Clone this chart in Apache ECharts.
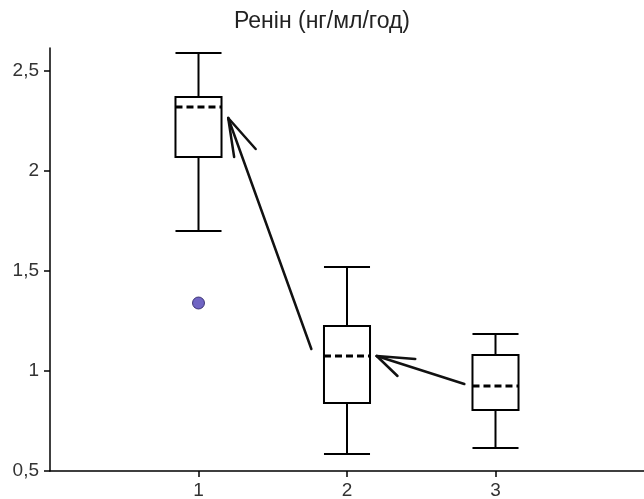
<!DOCTYPE html>
<html>
<head>
<meta charset="utf-8">
<script src="https://cdn.jsdelivr.net/npm/echarts@6/dist/echarts.min.js"></script>
<style>
html,body{margin:0;padding:0;background:#fff;}
#chart{width:644px;height:499px;}
</style>
</head>
<body>
<div id="chart"></div>
<script>
// ---- data ----
var titleText = 'Ренін (нг/мл/год)';
var groups = [1, 2, 3];
var whiskerLow  = [1.70, 0.585, 0.615];
var quart1      = [2.07, 0.84, 0.805];
var medians     = [2.32, 1.075, 0.925];
var quart3      = [2.37, 1.225, 1.08];
var whiskerHigh = [2.59, 1.52, 1.185];
var outlierX = [1];
var outlierY = [1.34];
var yTicks = [0.5, 1, 1.5, 2, 2.5];
var xTicks = [1, 2, 3];
// arrows: tip, tail, head end 1, head end 2 (data coordinates)
var arrowTip   = [[1.20, 2.265], [2.20, 1.075]];
var arrowTail  = [[1.76, 1.11], [2.79, 0.935]];
var arrowHeadA = [[1.385, 2.11], [2.46, 1.06]];
var arrowHeadB = [[1.24, 2.07], [2.34, 0.975]];

var boxData = groups.map(function (g, i) {
  return [g, whiskerLow[i], quart1[i], medians[i], quart3[i], whiskerHigh[i]];
});
var outlierData = outlierX.map(function (x, i) { return [x, outlierY[i]]; });
var arrowData = arrowTip.map(function (t, i) {
  return [t[0], t[1], arrowTail[i][0], arrowTail[i][1],
          arrowHeadA[i][0], arrowHeadA[i][1], arrowHeadB[i][0], arrowHeadB[i][1]];
});

var fmt = function (v) { return String(v).replace('.', ','); };
var FONT = 'Liberation Sans, Arial, sans-serif';

var chart = echarts.init(document.getElementById('chart'), null, {renderer: 'canvas'});
chart.setOption({
  animation: false,
  backgroundColor: '#fff',
  title: {
    text: titleText,
    left: 'center',
    top: 5,
    textStyle: {fontFamily: FONT, fontSize: 23, fontWeight: 'normal', color: '#222'}
  },
  grid: {left: 50, right: 0, top: 48, bottom: 28, containLabel: false, outerBoundsMode: 'none'},
  xAxis: {
    type: 'value', min: 0, max: 4, interval: 1,
    splitLine: {show: false},
    axisLine: {show: true, onZero: false, lineStyle: {color: '#000', width: 1.5}},
    axisTick: {show: true, length: 6, customValues: xTicks, lineStyle: {color: '#000', width: 1.5}},
    axisLabel: {customValues: xTicks, margin: 10, fontFamily: FONT, fontSize: 19, color: '#333', formatter: fmt}
  },
  yAxis: {
    type: 'value', min: 0.5, max: 2.615, interval: 0.5,
    splitLine: {show: false},
    axisLine: {show: true, onZero: false, lineStyle: {color: '#000', width: 1.5}},
    axisTick: {show: true, length: 6, customValues: yTicks, lineStyle: {color: '#000', width: 1.5}},
    axisLabel: {customValues: yTicks, margin: 11, fontFamily: FONT, fontSize: 19, color: '#333', formatter: fmt}
  },
  series: [
    {
      type: 'custom',
      data: boxData,
      encode: {x: 0, y: [1, 2, 3, 4, 5]},
      renderItem: function (params, api) {
        var x = api.value(0);
        var halfW = api.size([0.31, 0])[0] / 2;
        var pLow = api.coord([x, api.value(1)]);
        var pQ1 = api.coord([x, api.value(2)]);
        var pMed = api.coord([x, api.value(3)]);
        var pQ3 = api.coord([x, api.value(4)]);
        var pHigh = api.coord([x, api.value(5)]);
        var cx = pLow[0];
        var st = {stroke: '#000', lineWidth: 2, fill: null};
        return {
          type: 'group',
          children: [
            {type: 'line', shape: {x1: cx, y1: pLow[1], x2: cx, y2: pQ1[1]}, style: st},
            {type: 'line', shape: {x1: cx, y1: pQ3[1], x2: cx, y2: pHigh[1]}, style: st},
            {type: 'line', shape: {x1: cx - halfW, y1: pLow[1], x2: cx + halfW, y2: pLow[1]}, style: st},
            {type: 'line', shape: {x1: cx - halfW, y1: pHigh[1], x2: cx + halfW, y2: pHigh[1]}, style: st},
            {type: 'rect', shape: {x: cx - halfW, y: pQ3[1], width: 2 * halfW, height: pQ1[1] - pQ3[1]},
             style: {stroke: '#000', lineWidth: 2, fill: '#fff'}},
            {type: 'line', shape: {x1: cx - halfW, y1: pMed[1], x2: cx + halfW, y2: pMed[1]},
             style: {stroke: '#000', lineWidth: 3, lineDash: [7, 4]}}
          ]
        };
      }
    },
    {
      type: 'scatter',
      data: outlierData,
      symbol: 'circle',
      symbolSize: 12,
      itemStyle: {color: '#4c3fb4', borderColor: '#231a5c', borderWidth: 1}
    },
    {
      type: 'custom',
      data: arrowData,
      encode: {x: [0, 2, 4, 6], y: [1, 3, 5, 7]},
      renderItem: function (params, api) {
        var tip = api.coord([api.value(0), api.value(1)]);
        var tail = api.coord([api.value(2), api.value(3)]);
        var ha = api.coord([api.value(4), api.value(5)]);
        var hb = api.coord([api.value(6), api.value(7)]);
        var st = {stroke: '#111', lineWidth: 2.5, fill: null, lineCap: 'round'};
        return {
          type: 'group',
          children: [
            {type: 'line', shape: {x1: tail[0], y1: tail[1], x2: tip[0], y2: tip[1]}, style: st},
            {type: 'line', shape: {x1: tip[0], y1: tip[1], x2: ha[0], y2: ha[1]}, style: st},
            {type: 'line', shape: {x1: tip[0], y1: tip[1], x2: hb[0], y2: hb[1]}, style: st}
          ]
        };
      }
    }
  ]
});
</script>
</body>
</html>
